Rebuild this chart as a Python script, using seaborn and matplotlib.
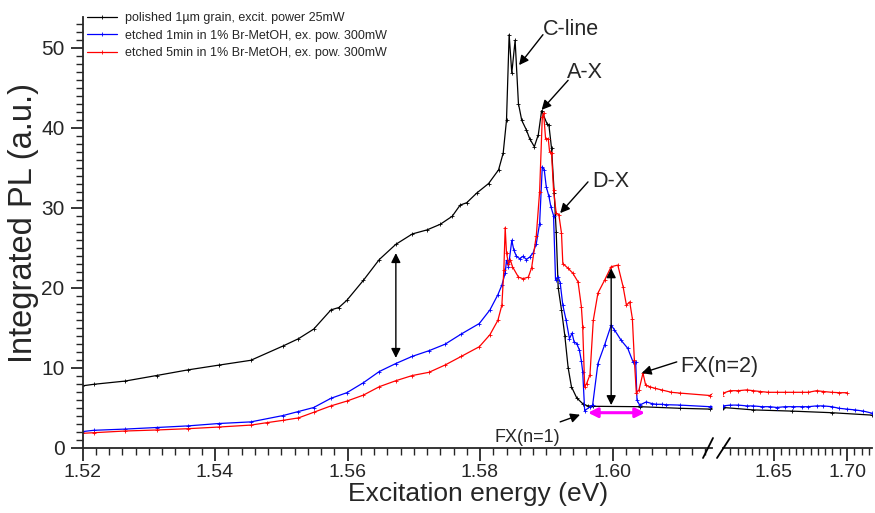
import numpy as np
import pandas as pd
import matplotlib
matplotlib.use("Agg")
import matplotlib.pyplot as plt
from matplotlib.lines import Line2D
from matplotlib.ticker import MultipleLocator, FormatStrFormatter
import seaborn as sns

# ---- photoluminescence excitation data (energy in eV, integrated PL in a.u.) ----
polished_E = [1.5199, 1.5217, 1.5264, 1.5312, 1.5359, 1.5406, 1.5454, 1.5503, 1.5526, 1.5549,
              1.5575, 1.5587, 1.5599, 1.5624, 1.5648, 1.5673, 1.5698, 1.5720, 1.5740, 1.5758,
              1.5770, 1.5780, 1.5795, 1.5813, 1.5828, 1.5835, 1.5840, 1.5844, 1.5848, 1.5853,
              1.5858, 1.5863, 1.5870, 1.5875, 1.5882, 1.5888, 1.5893, 1.5901, 1.5904, 1.5908,
              1.5912, 1.5915, 1.5918, 1.5923, 1.5928, 1.5933, 1.5938, 1.5946, 1.5956, 1.5963,
              1.5971, 1.6042, 1.6102, 1.6147, 1.6153, 1.6358, 1.6621, 1.6895, 1.7169]
polished_PL = [7.7, 7.9, 8.3, 9.0, 9.7, 10.3, 10.9, 12.7, 13.6, 14.8,
               17.2, 17.5, 18.4, 20.9, 23.5, 25.4, 26.7, 27.2, 27.9, 28.9,
               30.3, 30.6, 31.8, 33.0, 34.7, 36.8, 40.9, 51.6, 46.8, 50.9,
               43.0, 40.9, 39.7, 38.6, 37.6, 39.1, 42.1, 40.5, 40.3, 37.4,
               31.8, 27.0, 20.0, 17.2, 14.0, 10.0, 7.6, 6.2, 5.4, 5.2,
               5.15, 5.1, 4.9, 4.8, 5.0, 4.7, 4.55, 4.35, 4.05]

etch1_E = [1.5199, 1.5217, 1.5264, 1.5312, 1.5359, 1.5406, 1.5454, 1.5503, 1.5526, 1.5549,
           1.5575, 1.5599, 1.5624, 1.5648, 1.5673, 1.5698, 1.5723, 1.5747, 1.5772, 1.5799,
           1.5815, 1.5827, 1.5833, 1.5838, 1.5840, 1.5843, 1.5848, 1.5851, 1.5855, 1.5860,
           1.5865, 1.5870, 1.5875, 1.5880, 1.5885, 1.5890, 1.5894, 1.5897, 1.5900, 1.5904,
           1.5907, 1.5911, 1.5914, 1.5918, 1.5921, 1.5925, 1.5930, 1.5935, 1.5939, 1.5942,
           1.5946, 1.5950, 1.5953, 1.5955, 1.5958, 1.5966, 1.5970, 1.5978, 1.5988, 1.5998,
           1.6003, 1.6013, 1.6023, 1.6031, 1.6035, 1.6037, 1.6041, 1.6051, 1.6059, 1.6066,
           1.6074, 1.6081, 1.6102, 1.6147, 1.6153, 1.6199, 1.6256, 1.6313, 1.6358, 1.6416,
           1.6473, 1.6519, 1.6575, 1.6632, 1.6690, 1.6735, 1.6792, 1.6838, 1.6895, 1.6947,
           1.6998, 1.7055, 1.7112, 1.7169]
etch1_PL = [1.98, 2.15, 2.3, 2.5, 2.7, 3.0, 3.2, 4.0, 4.5, 5.0,
            6.15, 6.85, 8.1, 9.5, 10.5, 11.4, 12.1, 12.9, 14.2, 15.5,
            17.2, 19.1, 20.3, 21.8, 23.4, 22.6, 25.9, 24.7, 23.9, 23.6,
            23.9, 23.5, 23.8, 24.3, 25.5, 28.0, 35.1, 34.7, 32.6, 31.4,
            30.1, 29.0, 21.0, 21.3, 20.6, 17.8, 15.9, 13.6, 14.3, 13.2,
            13.0, 12.2, 10.8, 9.5, 4.6, 5.1, 5.3, 10.5, 12.8, 15.3,
            14.7, 13.4, 12.4, 10.7, 10.7, 5.9, 5.3, 5.7, 5.5, 5.4,
            5.4, 5.35, 5.3, 5.1, 5.2, 5.3, 5.3, 5.2, 5.2, 5.1,
            5.1, 5.0, 5.1, 5.1, 5.1, 5.1, 5.2, 5.2, 5.1, 4.9,
            4.8, 4.7, 4.55, 4.3]

etch5_E = [1.5199, 1.5217, 1.5264, 1.5312, 1.5359, 1.5406, 1.5454, 1.5478, 1.5503, 1.5526,
           1.5549, 1.5575, 1.5599, 1.5624, 1.5648, 1.5673, 1.5698, 1.5723, 1.5747, 1.5772,
           1.5799, 1.5815, 1.5827, 1.5833, 1.5836, 1.5838, 1.5840, 1.5843, 1.5846, 1.5849,
           1.5858, 1.5865, 1.5873, 1.5878, 1.5885, 1.5890, 1.5894, 1.5896, 1.5899, 1.5903,
           1.5905, 1.5908, 1.5911, 1.5915, 1.5919, 1.5923, 1.5925, 1.5933, 1.5940, 1.5948,
           1.5953, 1.5955, 1.5958, 1.5961, 1.5966, 1.5971, 1.5978, 1.5988, 1.5998, 1.6008,
           1.6016, 1.6021, 1.6026, 1.6030, 1.6033, 1.6036, 1.6040, 1.6046, 1.6050, 1.6056,
           1.6064, 1.6074, 1.6089, 1.6102, 1.6147, 1.6153, 1.6199, 1.6256, 1.6313, 1.6358,
           1.6404, 1.6462, 1.6519, 1.6575, 1.6632, 1.6690, 1.6735, 1.6792, 1.6838, 1.6895,
           1.6947, 1.6998]
etch5_PL = [1.77, 1.85, 2.06, 2.19, 2.35, 2.56, 2.8, 3.1, 3.4, 3.7,
            4.4, 5.2, 5.8, 6.55, 7.6, 8.35, 9.0, 9.4, 10.3, 11.4,
            12.6, 14.1, 15.9, 17.8, 22.2, 27.5, 24.3, 23.0, 23.4, 22.6,
            21.3, 21.1, 21.3, 22.5, 26.5, 32.0, 41.3, 41.8, 38.6, 38.6,
            37.0, 36.8, 32.2, 29.3, 29.1, 26.8, 23.0, 22.4, 21.8, 20.7,
            17.6, 15.1, 7.6, 8.0, 9.1, 15.9, 19.3, 20.9, 22.6, 22.8,
            20.1, 17.8, 18.2, 16.1, 10.9, 6.8, 7.2, 9.3, 7.8, 7.6,
            7.4, 7.2, 6.9, 6.8, 6.5, 6.8, 7.1, 7.1, 7.2, 7.1,
            7.0, 6.9, 6.9, 6.9, 6.9, 6.9, 6.9, 7.1, 7.0, 6.9,
            6.85, 6.85]

series_labels = ["polished 1\u00b5m grain, excit. power 25mW",
                 "etched 1min in 1% Br-MetOH, ex. pow. 300mW",
                 "etched 5min in 1% Br-MetOH, ex. pow. 300mW"]
series_colors = ["#000000", "#0000FF", "#FF0000"]

left_ticks = [1.52, 1.54, 1.56, 1.58, 1.60]
right_ticks = [1.65, 1.70]
y_ticks = [0, 10, 20, 30, 40, 50]

df = pd.concat([
    pd.DataFrame({"E": polished_E, "PL": polished_PL, "sample": series_labels[0]}),
    pd.DataFrame({"E": etch1_E, "PL": etch1_PL, "sample": series_labels[1]}),
    pd.DataFrame({"E": etch5_E, "PL": etch5_PL, "sample": series_labels[2]}),
], ignore_index=True)

sns.set_style("ticks")
plt.rcParams["font.family"] = ["Liberation Sans", "DejaVu Sans"]

W, H = 875, 513
fig = plt.figure(figsize=(W / 100, H / 100), dpi=100)

def fx(px):
    return px / W

def fy(py):
    return 1 - py / H

ax_bottom = fy(447.5)
ax_height = (447.5 - 17) / H
ax1 = fig.add_axes([fx(82.5), ax_bottom, (712 - 82.5) / W, ax_height])
ax2 = fig.add_axes([fx(723), ax_bottom, (872 - 723) / W, ax_height], sharey=ax1)

palette = dict(zip(series_labels, series_colors))
for ax in (ax1, ax2):
    for lab in series_labels:
        sub = df[df["sample"] == lab]
        sns.lineplot(data=sub, x="E", y="PL", ax=ax, color=palette[lab], lw=0.9,
                     marker="+", markersize=3, markeredgewidth=0.6,
                     markeredgecolor=palette[lab],
                     estimator=None, sort=False, label=lab if ax is ax1 else None,
                     legend=ax is ax1)

ax1.set_xlim(1.52, 1.52 + (712 - 82.5) / 6625)
ax2.set_xlim(1.65 + (723 - 774) / 1460, 1.65 + (872 - 774) / 1460)
ax1.set_ylim(0, (447.5 - 17) / 8)

for ax in (ax1, ax2):
    ax.set_xlabel("")
    ax.set_ylabel("")
    ax.spines["top"].set_visible(False)
    ax.spines["right"].set_visible(False)
    for s in ax.spines.values():
        s.set_linewidth(1.3)
    ax.tick_params(axis="x", which="major", direction="out", length=9, width=1.3,
                   labelsize=14, pad=3)
    ax.tick_params(axis="x", which="minor", direction="out", length=5, width=1.0)
    ax.patch.set_alpha(0)

ax1.xaxis.set_major_locator(MultipleLocator(0.02))
ax1.xaxis.set_minor_locator(MultipleLocator(0.002))
ax1.set_xticks(left_ticks)
ax1.xaxis.set_major_formatter(FormatStrFormatter("%.2f"))
ax2.set_xticks(right_ticks)
ax2.xaxis.set_minor_locator(MultipleLocator(0.005))
ax2.xaxis.set_major_formatter(FormatStrFormatter("%.2f"))

ax1.set_yticks(y_ticks)
ax1.yaxis.set_minor_locator(MultipleLocator(1))
ax1.tick_params(axis="y", which="major", direction="out", length=9, width=1.3,
                labelsize=15, pad=4)
ax1.tick_params(axis="y", which="minor", direction="out", length=5, width=1.0)

ax2.spines["left"].set_visible(False)
ax2.tick_params(axis="y", which="both", left=False, labelleft=False)

# legend
leg = ax1.legend(loc="upper left", bbox_to_anchor=(fx(87), fy(12)),
                 bbox_transform=fig.transFigure, frameon=False, fontsize=9,
                 borderpad=0, borderaxespad=0, handlelength=2.4, handletextpad=0.65,
                 labelspacing=0.45, numpoints=1)

# axis titles
fig.text(fx(478), fy(494), "Excitation energy (eV)", ha="center", va="center", fontsize=19)
fig.text(fx(24), fy(223), "Integrated PL (a.u.)", ha="center", va="center",
         rotation=90, fontsize=23.5)

# scale-break marks on the energy axis
for (x0, y0, x1, y1) in [(703, 458, 713, 438), (717, 458, 730, 438)]:
    fig.add_artist(Line2D([fx(x0), fx(x1)], [fy(y0), fy(y1)], color="black", lw=1.3,
                          transform=fig.transFigure))

# peak labels with arrows
arrow_kw = dict(arrowstyle="-|>", color="black", lw=1.0, mutation_scale=14,
                shrinkA=0, shrinkB=0)
labels = [
    ("C-line", (1.5895, 52.2), (1.5895, 51.6), (1.5859, 47.8), 15.5),
    ("A-X", (1.5931, 46.9), (1.5933, 45.9), (1.5893, 42.2), 15.5),
    ("D-X", (1.5969, 33.2), (1.5963, 33.2), (1.5921, 29.3), 15.5),
    ("FX(n=2)", (1.6102, 10.1), (1.6097, 10.7), (1.6044, 9.3), 15.5),
]
for txt, tpos, tail, tip, fs in labels:
    ax1.annotate("", xy=tip, xytext=tail, arrowprops=arrow_kw, annotation_clip=False)
    ax1.text(tpos[0], tpos[1], txt, ha="left", va="center", fontsize=fs, clip_on=False)

ax1.annotate("", xy=(1.5951, 4.1), xytext=(1.5921, 3.2), arrowprops=arrow_kw,
             annotation_clip=False)
ax1.text(1.5872, 1.2, "FX(n=1)", ha="center", va="center", fontsize=13)

# vertical double arrows marking intensity drops
dbl_kw = dict(arrowstyle="<|-|>", color="black", lw=1.0, mutation_scale=14,
              shrinkA=0, shrinkB=0)
ax1.annotate("", xy=(1.5673, 24.3), xytext=(1.5673, 11.2), arrowprops=dbl_kw)
ax1.annotate("", xy=(1.5998, 22.4), xytext=(1.5998, 5.3), arrowprops=dbl_kw)

# horizontal double arrow (exciton band width)
ax1.annotate("", xy=(1.5963, 4.35), xytext=(1.6049, 4.35),
             arrowprops=dict(arrowstyle="<|-|>", color="#FF00FF", lw=2.2,
                             mutation_scale=14, shrinkA=0, shrinkB=0))

fig.savefig("out.png", dpi=100)
